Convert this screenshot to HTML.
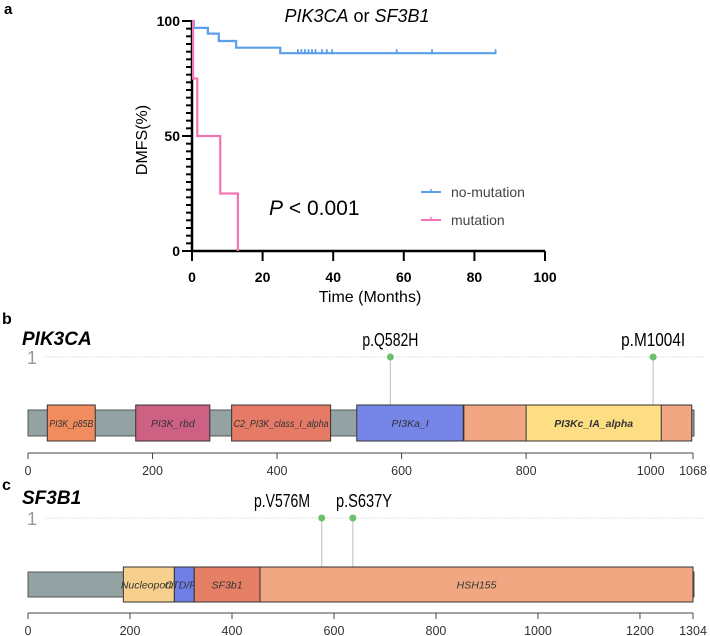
<!DOCTYPE html>
<html><head><meta charset="utf-8"><style>
body{margin:0;background:#fff;width:710px;height:636px;overflow:hidden;font-family:"Liberation Sans",sans-serif}
svg{display:block}
</style></head><body>
<svg id="fig" width="710" height="636" xmlns="http://www.w3.org/2000/svg" font-family="Liberation Sans, sans-serif">
<g id="pa"></g>
<g id="pb"></g>
<g id="pc"></g>
</svg>
<script>
// Panel a data
const xTicks=[0,20,40,60,80,100];
const yTicks=[0,50,100];
const blueTimes=[0,0.5,4.5,7.6,12.5,25,86];
const blueSurv=[100,97,94.5,91.3,88.4,86,86];
const blueCensor=[30,31,32,33,34,35,36.8,38.2,39.7,58,68,86];
const pinkTimes=[0,0.3,1.5,8,13,13];
const pinkSurv=[100,75,50,25,0,0];
// Panel b data
const pikLen=1068;
const pikDomNames=["PI3K_p85B","PI3K_rbd","C2_PI3K_class_I_alpha","PI3Ka_I","","PI3Kc_IA_alpha"];
const pikDomStart=[31,173,327,528,700,800];
const pikDomEnd=[108,292,486,699,1066,1017];
const pikDomColor=["#F08C5E","#CC6183","#E57A67","#7586E8","#F0A782","#FDDE84"];
const pikMutPos=[582,1004];
const pikMutLabel=["p.Q582H","p.M1004I"];
const pikTicks=[0,200,400,600,800,1000,1068];
// Panel c data
const sfLen=1304;
const sfDomNames=["Nucleoporin","CTD/FG","SF3b1","HSH155"];
const sfDomStart=[187,287,326,455];
const sfDomEnd=[287,326,455,1304];
const sfDomColor=["#F6D08C","#6F7FE6","#E57F66","#F0A782"];
const sfMutPos=[576,637];
const sfMutLabel=["p.V576M","p.S637Y"];
const sfTicks=[0,200,400,600,800,1000,1200,1304];

const NS="http://www.w3.org/2000/svg";
function mk(parent,tag,attrs,text){const e=document.createElementNS(NS,tag);for(const k in attrs)e.setAttribute(k,attrs[k]);if(text!==undefined)e.textContent=text;parent.appendChild(e);return e;}

// ---- Panel a
const pa=document.getElementById('pa');
const X0=192,X1=545,Y0=251,Y1=21;
const sx=v=>X0+(v/100)*(X1-X0), sy=v=>Y0-(v/100)*(Y0-Y1);
let t=mk(pa,'text',{x:4,y:14,'font-size':15,'font-weight':'bold'},'a');


t=mk(pa,'text',{x:357,y:22,'font-size':18,'text-anchor':'middle'});


t.innerHTML='<tspan font-style="italic">PIK3CA</tspan> or <tspan font-style="italic">SF3B1</tspan>';
for(let i=0;i<=30;i++){const y=Y0-i*(Y0-Y1)/30;const l=mk(pa,'line',{x1:X0-6,x2:X0,y1:y,y2:y,stroke:'#000','stroke-width':2});

}
yTicks.forEach(v=>{const l=mk(pa,'line',{x1:X0-10,x2:X0,y1:sy(v),y2:sy(v),stroke:'#000','stroke-width':2});


const tx=mk(pa,'text',{x:X0-12,y:sy(v)+5,'font-size':14,'font-weight':'bold','text-anchor':'end'},String(v));

});
xTicks.forEach(v=>{const l=mk(pa,'line',{x1:sx(v),x2:sx(v),y1:Y0,y2:Y0+10,stroke:'#000','stroke-width':2});


const tx=mk(pa,'text',{x:sx(v),y:282,'font-size':14,'font-weight':'bold','text-anchor':'middle'},String(v));

});
let ax=mk(pa,'path',{d:`M${X0} ${Y1-1}V${Y0}H${X1}`,stroke:'#000','stroke-width':2.5,fill:'none'});


t=mk(pa,'text',{x:370,y:302,'font-size':16,'text-anchor':'middle'},'Time (Months)');


t=mk(pa,'text',{x:0,y:0,'font-size':16,'text-anchor':'middle',transform:'translate(147,140) rotate(-90)'},'DMFS(%)');


function stepPath(ts,ss){let d=`M${sx(ts[0])} ${sy(ss[0])}`;for(let i=1;i<ts.length;i++){d+=`H${sx(ts[i])}V${sy(ss[i])}`;}return d;}
let p=mk(pa,'path',{d:stepPath(blueTimes,blueSurv),stroke:'#5B9FEA','stroke-width':2.2,fill:'none'});


function survAt(v){let s=blueSurv[0];for(let i=0;i<blueTimes.length;i++)if(blueTimes[i]<=v)s=blueSurv[i];return s;}
blueCensor.forEach(c=>{const l=mk(pa,'line',{x1:sx(c),x2:sx(c),y1:sy(survAt(c))-4,y2:sy(survAt(c))+1,stroke:'#5B9FEA','stroke-width':1.8});

});
p=mk(pa,'path',{d:stepPath(pinkTimes,pinkSurv),stroke:'#F276B4','stroke-width':2.2,fill:'none'});


t=mk(pa,'text',{x:269,y:215,'font-size':21});


t.innerHTML='<tspan font-style="italic">P</tspan> &lt; 0.001';
[["no-mutation","#5B9FEA",192],["mutation","#F276B4",220]].forEach(([n,c,y])=>{
const g=mk(pa,'g',{});


mk(g,'line',{x1:421,x2:441,y1:y,y2:y,stroke:c,'stroke-width':2});
mk(g,'line',{x1:431,x2:431,y1:y-3,y2:y,stroke:c,'stroke-width':1.5});
mk(g,'text',{x:451,y:y+5,'font-size':14,fill:'#444'},n);});

// ---- lollipop panels
function lolli(g,o){
 const L=28,R=693,px=v=>L+v/o.len*(R-L);
 let t=mk(g,'text',{x:2,y:o.letY,'font-size':16,'font-weight':'bold'},o.letter);
 
 
 t=mk(g,'text',{x:22,y:o.nameY,'font-size':19,'font-weight':'bold','font-style':'italic'},o.gene);
 
 
 t=mk(g,'text',{x:27,y:o.dotY+7,'font-size':18,fill:'#999'},'1');
 
 
 let l=mk(g,'line',{x1:45,x2:705,y1:o.dotY,y2:o.dotY,stroke:'#ccc','stroke-width':0.8,'stroke-dasharray':'1.5,1.5'});
 
 
 o.mutPos.forEach((m,i)=>{
  const s=mk(g,'line',{x1:px(m),x2:px(m),y1:o.dotY,y2:o.boxTop,stroke:'#c8c8c8','stroke-width':1.2});
  
  
  const c=mk(g,'circle',{cx:px(m),cy:o.dotY,r:3.5,fill:'#6CBF6C'});
  
  
  const tx=mk(g,'text',{x:o.labX?o.labX[i]:px(m),y:o.dotY-11,'font-size':18,'text-anchor':'middle',textLength:o.mutLabel[i].length*8,lengthAdjust:'spacingAndGlyphs'},o.mutLabel[i]);
  
  
 });
 const bb=mk(g,'rect',{x:L,y:o.boxTop+5,width:R-L+1,height:o.boxH-10,fill:'#93A3A3',stroke:'#555','stroke-width':1});
 
 
 o.names.forEach((n,i)=>{
  const x=px(o.start[i]),w=px(o.end[i])-x;
  const r=mk(g,'rect',{x:x,y:o.boxTop,width:w,height:o.boxH,fill:o.colors[i],stroke:'#333','stroke-width':1});
  
  
  if(n){const est=n.length*5.2;const at={x:x+w/2,y:o.boxTop+o.boxH/2+4,'font-size':10.5,'font-style':'italic','text-anchor':'middle',fill:'#333','font-weight':n==='PI3Kc_IA_alpha'?'bold':'normal'};
  if(est>w-4&&n!=='Nucleoporin'&&n!=='CTD/FG'){at.textLength=w-4;at.lengthAdjust='spacingAndGlyphs';}
  const tx=mk(g,'text',at,n);
  
  }
 });
 l=mk(g,'line',{x1:L,x2:R,y1:o.axY,y2:o.axY,stroke:'#444','stroke-width':1});
 
 
 o.ticks.forEach(v=>{const tk=mk(g,'line',{x1:px(v),x2:px(v),y1:o.axY,y2:o.axY+6,stroke:'#444','stroke-width':1});
  
  
  const tx=mk(g,'text',{x:px(v),y:o.axY+22,'font-size':12.5,'text-anchor':'middle',fill:'#333'},String(v));
  
  });
}
lolli(document.getElementById('pb'),{letter:'b',letY:324,gene:'PIK3CA',nameY:345,len:pikLen,dotY:357,boxTop:405,boxH:36,axY:453,
 names:pikDomNames,start:pikDomStart,end:pikDomEnd,colors:pikDomColor,mutPos:pikMutPos,mutLabel:pikMutLabel,ticks:pikTicks});
lolli(document.getElementById('pc'),{letter:'c',letY:490,gene:'SF3B1',nameY:504,len:sfLen,dotY:518,boxTop:567,boxH:35,axY:613,
 names:sfDomNames,start:sfDomStart,end:sfDomEnd,colors:sfDomColor,mutPos:sfMutPos,mutLabel:sfMutLabel,ticks:sfTicks,labX:[282,364]});
</script>
</body></html>
